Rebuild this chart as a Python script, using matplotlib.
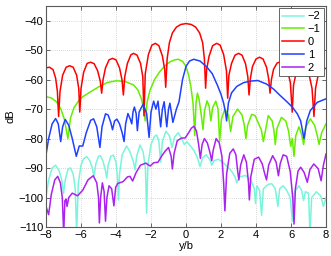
import matplotlib
matplotlib.use("Agg")
import matplotlib.pyplot as plt

plt.rcParams['font.family'] = ['Liberation Sans', 'DejaVu Sans']
plt.rcParams['font.size'] = 8

# mode -2 (cyan)
x_m2 = [-8.00, -7.85, -7.65, -7.45, -7.25, -7.10, -7.00, -6.90, -6.75, -6.60, -6.45, -6.33, -6.25, -6.15,
        -6.00, -5.85, -5.67, -5.50, -5.35, -5.26, -5.15, -5.00, -4.90, -4.75, -4.60, -4.53, -4.45, -4.30,
        -4.15, -4.00, -3.92, -3.86, -3.80, -3.65, -3.40, -3.20, -3.00, -2.91, -2.82, -2.63, -2.45, -2.32,
        -2.25, -2.18, -2.00, -1.80, -1.67, -1.55, -1.45, -1.35, -1.15, -0.95, -0.80, -0.65, -0.45, -0.25,
        -0.10, 0.05, 0.25, 0.45, 0.65, 0.80, 0.95, 1.15, 1.35, 1.47, 1.60, 1.85, 2.10, 2.35, 2.60, 2.80,
        2.90, 3.05, 3.40, 3.70, 3.90, 3.97, 4.05, 4.20, 4.32, 4.42, 4.70, 4.90, 5.10, 5.25, 5.35, 5.55,
        5.75, 5.95, 6.08, 6.20, 6.45, 6.60, 6.72, 6.82, 7.00, 7.08, 7.18, 7.45, 7.70, 7.85, 8.00]
db_m2 = [-99.7, -94.0, -90.0, -89.0, -91.0, -94.0, -98.6, -94.0, -90.5, -89.9, -92.0, -97.0, -112.0, -95.0,
         -89.0, -86.8, -86.1, -87.5, -90.0, -92.9, -88.5, -86.0, -85.8, -87.5, -91.0, -93.4, -89.0, -86.0,
         -85.6, -88.0, -93.0, -100.8, -92.0, -85.5, -82.5, -84.5, -88.0, -90.6, -86.0, -82.2, -84.5, -90.0,
         -105.3, -89.0, -82.0, -79.2, -78.8, -81.0, -88.0, -81.0, -77.5, -79.0, -83.0, -79.5, -78.0, -80.0,
         -82.0, -81.0, -82.5, -84.0, -86.5, -89.5, -86.5, -85.5, -87.0, -89.0, -87.5, -87.0, -88.0, -89.5,
         -91.0, -93.0, -95.0, -93.0, -92.5, -94.0, -97.0, -102.0, -96.0, -97.5, -106.0, -97.0, -95.5, -95.3,
         -97.0, -103.0, -97.0, -96.0, -97.5, -100.0, -108.0, -98.0, -96.0, -97.5, -101.0, -98.0, -98.5,
         -112.0, -100.0, -98.0, -99.5, -103.0, -100.0]

# mode -1 (green)
x_m1 = [-8.00, -7.70, -7.40, -7.15, -6.95, -6.75, -6.60, -6.40, -6.15, -5.90, -5.50, -5.00, -4.50, -4.00,
        -3.50, -3.00, -2.75, -2.55, -2.42, -2.33, -2.22, -2.05, -1.80, -1.50, -1.20, -0.90, -0.65, -0.44,
        -0.20, 0.00, 0.15, 0.28, 0.40, 0.50, 0.57, 0.65, 0.74, 0.86, 0.97, 1.06, 1.20, 1.32, 1.42, 1.52,
        1.70, 1.83, 1.92, 2.02, 2.22, 2.42, 2.55, 2.68, 2.95, 3.20, 3.33, 3.42, 3.52, 3.75, 3.95, 4.15,
        4.30, 4.42, 4.70, 4.92, 5.03, 5.10, 5.20, 5.45, 5.70, 5.86, 5.98, 6.07, 6.17, 6.27, 6.45, 6.60,
        6.72, 6.85, 7.10, 7.35, 7.50, 7.60, 7.75, 8.00]
db_m1 = [-65.8, -66.2, -67.5, -70.0, -73.5, -80.0, -73.0, -69.5, -67.3, -65.8, -64.3, -62.5, -61.0, -60.4,
         -60.6, -61.8, -63.5, -66.5, -70.0, -74.0, -67.5, -63.5, -60.0, -57.3, -55.3, -53.9, -53.3, -53.1,
         -53.8, -55.5, -58.5, -62.5, -68.0, -79.0, -68.0, -64.6, -66.5, -71.5, -77.0, -70.5, -67.2, -69.0,
         -74.0, -69.5, -67.3, -70.0, -81.0, -73.5, -70.0, -72.0, -77.6, -72.5, -70.0, -72.0, -75.5, -80.0,
         -75.5, -71.8, -72.2, -75.0, -77.0, -81.0, -72.2, -74.0, -77.5, -82.0, -76.5, -72.8, -74.0, -77.5,
         -82.6, -80.0, -86.0, -79.0, -76.0, -78.5, -82.0, -76.0, -73.3, -75.5, -79.0, -82.0, -78.0, -75.0]

# mode 0 (red)
x_0 = [-8.00, -7.80, -7.60, -7.45, -7.35, -7.28, -7.20, -7.05, -6.85, -6.65, -6.45, -6.25, -6.13, -6.07,
       -6.00, -5.85, -5.65, -5.45, -5.25, -5.05, -4.90, -4.82, -4.74, -4.60, -4.40, -4.20, -4.00, -3.80,
       -3.66, -3.58, -3.50, -3.35, -3.15, -3.00, -2.80, -2.60, -2.47, -2.40, -2.33, -2.15, -1.95, -1.75,
       -1.55, -1.35, -1.22, -1.16, -1.08, -0.95, -0.78, -0.55, -0.30, 0.00, 0.30, 0.55, 0.78, 0.95, 1.05,
       1.12, 1.18, 1.32, 1.52, 1.75, 1.95, 2.15, 2.31, 2.38, 2.45, 2.60, 2.80, 3.00, 3.20, 3.40, 3.53,
       3.60, 3.68, 3.80, 4.00, 4.20, 4.40, 4.60, 4.73, 4.80, 4.88, 5.00, 5.20, 5.40, 5.60, 5.80, 5.96,
       6.07, 6.14, 6.28, 6.48, 6.68, 6.88, 7.05, 7.20, 7.31, 7.40, 7.55, 7.75, 8.00]
db_0 = [-56.0, -55.8, -56.6, -59.5, -64.0, -72.5, -64.0, -58.5, -55.8, -55.3, -55.8, -58.5, -63.0, -71.0,
        -63.0, -57.5, -54.5, -54.1, -54.6, -57.0, -60.5, -64.6, -60.0, -56.0, -53.3, -52.8, -53.3, -56.0,
        -60.0, -65.2, -59.0, -54.5, -51.6, -51.1, -51.7, -54.5, -59.0, -72.3, -58.0, -51.5, -48.3, -47.7,
        -48.5, -52.0, -56.5, -62.6, -53.0, -47.5, -44.2, -42.2, -41.3, -41.0, -41.3, -42.2, -44.2, -47.5,
        -53.0, -62.9, -56.5, -52.0, -48.5, -47.7, -48.3, -51.5, -57.0, -66.3, -58.5, -54.5, -51.7, -51.1,
        -51.7, -54.6, -59.0, -65.2, -59.5, -55.5, -53.0, -52.4, -53.0, -55.8, -60.0, -64.6, -60.0, -56.5,
        -54.4, -53.9, -54.4, -56.8, -61.0, -71.0, -62.0, -58.0, -55.9, -55.6, -56.3, -58.8, -63.0, -72.5,
        -63.0, -58.5, -56.3, -56.2]

# mode 1 (blue)
x_p1 = [-8.00, -7.85, -7.65, -7.45, -7.30, -7.16, -7.05, -6.90, -6.70, -6.50, -6.27, -6.10, -5.90, -5.70,
        -5.45, -5.28, -5.10, -4.92, -4.80, -4.60, -4.45, -4.30, -4.20, -4.08, -3.95, -3.80, -3.65, -3.54,
        -3.45, -3.32, -3.18, -3.10, -3.03, -2.95, -2.85, -2.78, -2.68, -2.45, -2.25, -2.11, -2.00, -1.85,
        -1.72, -1.60, -1.45, -1.35, -1.25, -1.10, -1.00, -0.92, -0.75, -0.55, -0.40, -0.20, 0.00, 0.20,
        0.44, 0.80, 1.20, 1.50, 1.80, 2.00, 2.15, 2.25, 2.32, 2.42, 2.60, 2.90, 3.30, 3.70, 4.10, 4.60,
        5.00, 5.40, 5.80, 6.10, 6.36, 6.55, 6.74, 6.90, 7.10, 7.50, 8.00]
db_p1 = [-85.5, -80.0, -75.0, -73.2, -75.0, -81.0, -76.0, -73.5, -75.5, -80.0, -86.0, -82.5, -82.5, -78.0,
         -73.8, -73.3, -76.0, -83.0, -76.0, -71.6, -72.0, -74.5, -77.0, -74.0, -73.4, -75.0, -78.0, -81.0,
         -75.0, -71.5, -73.5, -75.0, -71.0, -69.3, -71.5, -77.3, -71.0, -68.3, -71.5, -79.6, -71.0, -67.3,
         -70.0, -67.3, -76.0, -70.0, -67.5, -76.0, -70.0, -68.0, -74.5, -70.0, -67.5, -60.0, -55.5, -53.7,
         -53.1, -53.7, -55.8, -58.0, -62.0, -65.0, -68.0, -71.0, -74.0, -68.0, -64.5, -62.3, -61.0, -60.5,
         -60.3, -61.5, -63.2, -65.5, -67.7, -69.5, -71.6, -74.0, -80.0, -74.0, -70.5, -67.7, -66.5]

# mode 2 (purple)
x_p2 = [-8.00, -7.85, -7.70, -7.50, -7.33, -7.18, -7.07, -6.99, -6.92, -6.85, -6.80, -6.70, -6.50, -6.20,
        -5.90, -5.60, -5.30, -5.10, -5.00, -4.95, -4.88, -4.78, -4.68, -4.60, -4.52, -4.40, -4.25, -4.12,
        -4.02, -3.90, -3.60, -3.35, -3.20, -3.05, -2.85, -2.60, -2.30, -2.05, -1.85, -1.60, -1.40, -1.20,
        -1.00, -0.85, -0.78, -0.68, -0.50, -0.25, -0.05, 0.15, 0.30, 0.45, 0.60, 0.72, 0.82, 0.92, 1.05,
        1.22, 1.38, 1.47, 1.55, 1.72, 1.90, 2.05, 2.15, 2.22, 2.32, 2.50, 2.70, 2.85, 2.95, 3.02, 3.12,
        3.30, 3.45, 3.57, 3.62, 3.70, 3.90, 4.15, 4.35, 4.50, 4.60, 4.72, 4.95, 5.15, 5.28, 5.38, 5.55,
        5.75, 5.95, 6.10, 6.17, 6.25, 6.40, 6.55, 6.75, 6.93, 7.08, 7.30, 7.55, 7.72, 7.85, 8.00]
db_p2 = [-103.0, -105.8, -99.0, -94.0, -92.8, -95.0, -100.0, -112.0, -101.0, -100.5, -103.0, -100.0, -98.5,
         -99.4, -97.5, -94.0, -92.6, -95.0, -100.0, -108.6, -100.0, -95.0, -98.0, -108.0, -100.0, -96.0,
         -97.0, -102.8, -96.5, -95.2, -94.6, -93.0, -92.8, -94.4, -91.5, -89.0, -88.3, -89.3, -88.2, -88.0,
         -86.0, -84.3, -83.0, -86.0, -90.3, -85.0, -80.7, -79.8, -79.8, -78.0, -76.5, -75.8, -77.5, -82.0,
         -86.7, -82.0, -80.0, -81.5, -85.0, -87.5, -84.0, -80.0, -81.5, -86.0, -95.0, -104.5, -92.0, -85.0,
         -83.5, -85.5, -91.0, -94.0, -89.0, -85.5, -88.0, -95.0, -100.8, -93.0, -87.0, -86.3, -88.5, -92.0,
         -94.0, -89.0, -85.8, -88.0, -92.6, -88.5, -85.5, -86.0, -91.0, -100.0, -109.0, -97.0, -91.0, -89.7,
         -91.5, -94.8, -90.5, -88.6, -90.2, -94.3, -89.0, -85.2]

labels = ['\u22122', '\u22121', '0', '1', '2']
colors = ['#7af5dc', '#66ee00', '#ff0000', '#2040ff', '#aa22ee']

fig = plt.figure(figsize=(3.31, 2.56), dpi=100)
ax = fig.add_axes([0.139, 0.113, 0.846, 0.864])

series = [(x_m2, db_m2), (x_m1, db_m1), (x_0, db_0), (x_p1, db_p1), (x_p2, db_p2)]
for (xs, ys), lab, col in zip(series, labels, colors):
    ax.plot(xs, ys, color=col, lw=1.1, label=lab)

ax.set_xlim(-8, 8)
ax.set_ylim(-110, -35)
ax.set_xticks(range(-8, 9, 2))
ax.set_yticks(range(-110, -35, 10))
ax.grid(True, color='0.7', linestyle=(0, (1, 2)), linewidth=0.5)
ax.tick_params(direction='in', length=3, width=0.6, color='0.3', top=True, right=True, pad=2)
for s in ax.spines.values():
    s.set_color('0.35')
    s.set_linewidth(0.8)
ax.set_xlabel('y/b', labelpad=1)
ax.set_ylabel('dB', labelpad=2)

leg = ax.legend(loc='upper right', fancybox=False, handlelength=2.0, handletextpad=0.3,
                labelspacing=0.25, borderpad=0.3, borderaxespad=0.2, framealpha=1)
leg.get_frame().set_edgecolor('0.3')
leg.get_frame().set_linewidth(0.6)

fig.savefig('out.png', dpi=100)
